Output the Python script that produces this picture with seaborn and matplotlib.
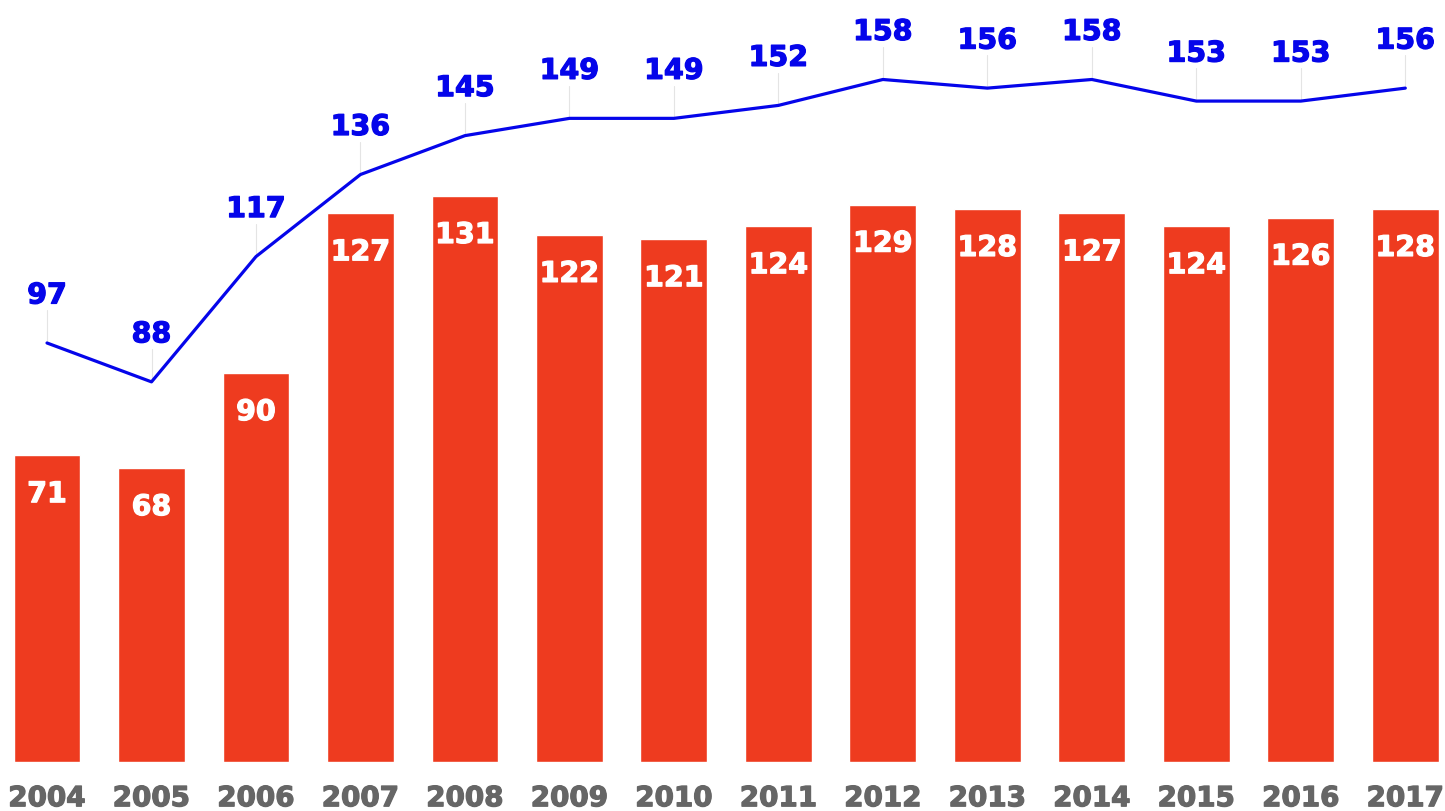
import numpy as np
import pandas as pd
import matplotlib
matplotlib.use("Agg")
import matplotlib.pyplot as plt
import matplotlib.patheffects as pe
import seaborn as sns

years = ["2004", "2005", "2006", "2007", "2008", "2009", "2010",
         "2011", "2012", "2013", "2014", "2015", "2016", "2017"]
bar_values = [71, 68, 90, 127, 131, 122, 121, 124, 129, 128, 127, 124, 126, 128]
line_values = [97, 88, 117, 136, 145, 149, 149, 152, 158, 156, 158, 153, 153, 156]

sns.set_theme(style="white")
plt.rcParams['font.family'] = ['DejaVu Sans']

BAR_COLOR = "#EE3B1F"
LINE_COLOR = "#0505EA"
TICK_COLOR = "#666666"

fig = plt.figure(figsize=(14.45, 8.11), dpi=100)
ax = fig.add_axes([0, 49 / 811, 1, 762 / 811])

df = pd.DataFrame({"year": years, "bars": bar_values, "line": line_values,
                   "pos": np.arange(len(years))})

sns.barplot(data=df, x="year", y="bars", color=BAR_COLOR, saturation=1,
            width=0.64, ax=ax)
sns.lineplot(data=df, x="pos", y="line", color=LINE_COLOR, linewidth=2.3,
             ax=ax)

for i, v in enumerate(bar_values):
    ax.text(i, v - 9, str(v), ha="center", va="center", color="white",
            fontsize=20.5, fontweight="bold",
            path_effects=[pe.withStroke(linewidth=0.9, foreground="white")])

for i, v in enumerate(line_values):
    ax.plot([i, i], [v + 0.5, v + 7.6], color="#e4e4e4", linewidth=0.8,
            zorder=1)
    ax.text(i, v + 11, str(v), ha="center", va="center", color=LINE_COLOR,
            fontsize=20.5, fontweight="bold",
            path_effects=[pe.withStroke(linewidth=0.9, foreground=LINE_COLOR)])

ax.set_xlim(-0.45, 13.38)
ax.set_ylim(0, 176.4)
ax.set_xlabel("")
ax.set_ylabel("")
ax.set_yticks([])
ax.tick_params(axis="x", length=0, pad=16, labelsize=20, labelcolor=TICK_COLOR)
for lab in ax.get_xticklabels():
    lab.set_fontweight("bold")
    lab.set_path_effects([pe.withStroke(linewidth=0.9, foreground=TICK_COLOR)])
for s in ax.spines.values():
    s.set_visible(False)

fig.savefig("out.png", dpi=100, facecolor="white")
